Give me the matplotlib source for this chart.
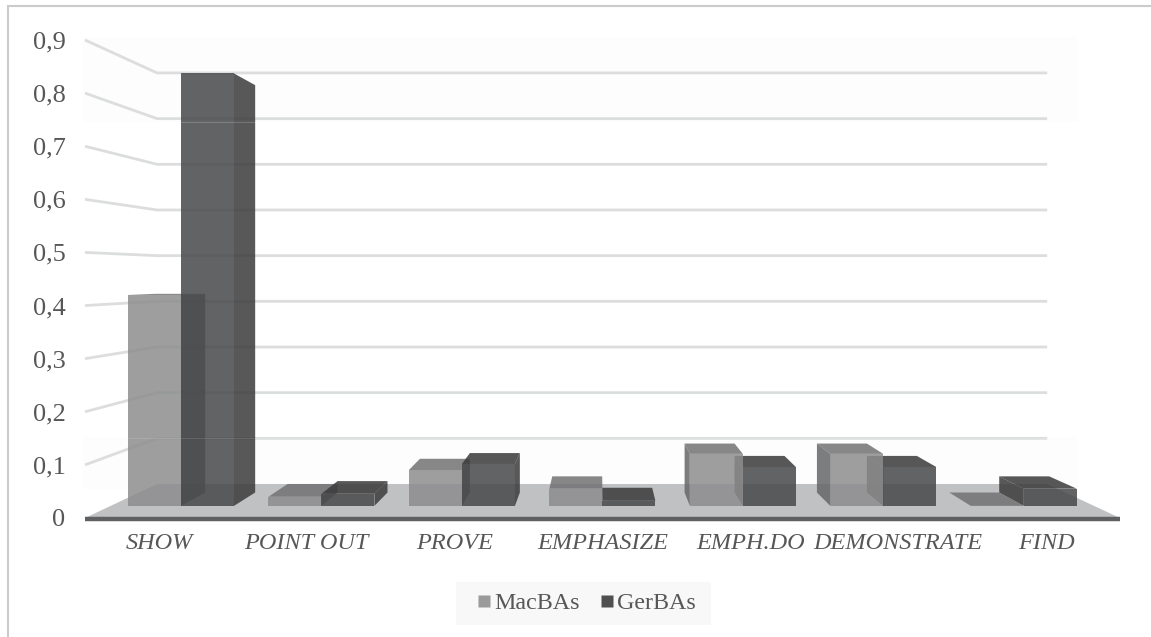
import matplotlib
matplotlib.use("Agg")
import matplotlib.pyplot as plt
from matplotlib.lines import Line2D
from matplotlib.patches import Polygon, Rectangle

categories = ["SHOW", "POINT OUT", "PROVE", "EMPHASIZE", "EMPH.DO", "DEMONSTRATE", "FIND"]
mac_bas = [0.418, 0.018, 0.071, 0.034, 0.103, 0.103, 0.0]
ger_bas = [0.857, 0.024, 0.083, 0.010, 0.077, 0.077, 0.034]
y_ticks = [0, 0.1, 0.2, 0.3, 0.4, 0.5, 0.6, 0.7, 0.8, 0.9]
y_labels = ["0", "0,1", "0,2", "0,3", "0,4", "0,5", "0,6", "0,7", "0,8", "0,9"]

W, H = 1151, 637
plt.rcParams["font.family"] = ["Liberation Serif", "DejaVu Serif"]
fig = plt.figure(figsize=(W / 100, H / 100), dpi=100, facecolor="white")

# The data axes are the front plane of the 3-D box.
left, right, bottom, top = 85, 1120, 518, 40
ax = fig.add_axes([left / W, 1 - bottom / H, (right - left) / W, (bottom - top) / H])
ax.set_xlim(-0.5, 6.5)
ax.set_ylim(0, 0.9)
ax.patch.set_alpha(0)
for s in ax.spines.values():
    s.set_visible(False)

# Vanishing point and depth factors of the perspective view.
VX, VY = 2.982, 0.457
K_BACK = 0.86
K_BAR_FRONT = 0.95
K_BAR_BACK = 0.895
BAR_W = 0.3775


def proj(x, v, k):
    return (VX + (x - VX) * k, VY + (v - VY) * k)


def poly(points, color, alpha=1.0, z=3):
    ax.add_patch(Polygon(points, closed=True, facecolor=color, edgecolor="none",
                         alpha=alpha, zorder=z, clip_on=False))


def pix_rect(x0, y0, x1, y1, color, alpha=1.0, z=1):
    fig.add_artist(Rectangle((x0 / W, 1 - y1 / H), (x1 - x0) / W, (y1 - y0) / H,
                             transform=fig.transFigure, facecolor=color,
                             edgecolor="none", alpha=alpha, zorder=z))


# Faint lighter bands of the plot area.
pix_rect(83, 37, 1078, 122, "#fdfdfd", z=-2)
pix_rect(83, 437, 1078, 489, "#fdfdfd", z=-2)

# Chart frame: top and left edges.
fig.add_artist(Line2D([8 / W, 8 / W, 1], [0, 1 - 6 / H, 1 - 6 / H],
                      transform=fig.transFigure, color="#cbcbcb", lw=1.5, zorder=0,
                      solid_joinstyle="miter"))

# Wall gridlines.
grid_c = "#dcdddd"
for v in y_ticks[1:]:
    p0 = proj(-0.5, v, 1.0)
    p1 = proj(-0.5, v, K_BACK)
    p2 = proj(6.5, v, K_BACK)
    ax.plot([p0[0], p1[0], p2[0]], [p0[1], p1[1], p2[1]], color=grid_c, lw=2.0,
            solid_joinstyle="miter", solid_capstyle="butt", zorder=1, clip_on=False)

# Floor and its dark front edge.
poly([proj(-0.5, 0, 1.0), proj(6.5, 0, 1.0), proj(6.5, 0, K_BACK), proj(-0.5, 0, K_BACK)],
     "#c0c1c3", z=1.5)
ax.plot([-0.5, 6.5], [-0.001, -0.001], color="#5f6062", lw=3.2, solid_capstyle="butt",
        zorder=2, clip_on=False)

MAC = dict(front="#8d8d8e", side="#666768", top="#727273")
GER = dict(front="#474849", side="#3b3b3c", top="#3a3a3b")
ALPHA = 0.85


def draw_bar(x0, x1, v, c, z):
    f0, f1 = K_BAR_FRONT, K_BAR_BACK
    if v > 0:
        if x1 < VX:
            poly([proj(x1, 0, f0), proj(x1, 0, f1), proj(x1, v, f1), proj(x1, v, f0)],
                 c["side"], ALPHA, z)
        if x0 > VX:
            poly([proj(x0, 0, f0), proj(x0, 0, f1), proj(x0, v, f1), proj(x0, v, f0)],
                 c["side"], ALPHA, z)
    if v < VY:
        poly([proj(x0, v, f0), proj(x1, v, f0), proj(x1, v, f1), proj(x0, v, f1)],
             c["top"], ALPHA, z + 0.01)
    if v > 0:
        poly([proj(x0, 0, f0), proj(x1, 0, f0), proj(x1, v, f0), proj(x0, v, f0)],
             c["front"], ALPHA, z + 0.02)


for i in range(len(categories)):
    pair = [(i - BAR_W, i, mac_bas[i], MAC), (i, i + BAR_W, ger_bas[i], GER)]
    # Nearer the vanishing point comes first so outer bars overlap correctly.
    order = pair if i < VX else pair[::-1]
    for n, (x0, x1, v, c) in enumerate(order):
        draw_bar(x0, x1, v, c, 3 + i * 0.1 + n * 0.05)

# Slight banding across the bars.
pix_rect(83, 122, 1078, 122.8, "#ffffff", 0.18, z=5)
pix_rect(83, 438, 1078, 438.8, "#ffffff", 0.12, z=5)
pix_rect(83, 488.5, 1078, 489.3, "#ffffff", 0.12, z=5)

text_c = "#575757"
ax.set_yticks(y_ticks)
ax.set_yticklabels(y_labels, fontsize=19, color=text_c)
ax.set_xticks(range(len(categories)))
ax.set_xticklabels(categories, fontsize=17.5, color=text_c, style="italic")
ax.tick_params(axis="y", length=0, pad=14)
ax.tick_params(axis="x", length=0, pad=11)

# Legend on its pale panel.
handles = [
    Line2D([], [], ls="none", marker="s", ms=8.6, mec="none", mfc="#9a9a9b", label="MacBAs"),
    Line2D([], [], ls="none", marker="s", ms=8.6, mec="none", mfc="#4f4f51", label="GerBAs"),
]
pix_rect(456, 582, 711, 625, "#f8f8f8", z=0.5)
leg = fig.legend(handles=handles, loc="center", bbox_to_anchor=(587 / W, 1 - 603 / H),
                 ncol=2, frameon=False, fontsize=17.3, labelcolor=text_c, numpoints=1,
                 handlelength=0.55, handletextpad=0.15, columnspacing=0.85)

fig.savefig("out.png", dpi=100)
